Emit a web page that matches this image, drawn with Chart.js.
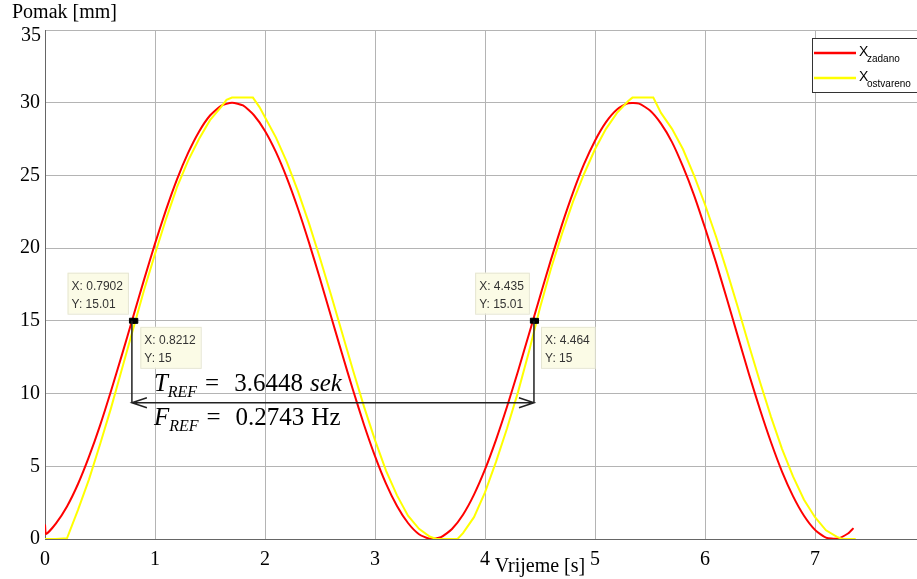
<!DOCTYPE html>
<html>
<head>
<meta charset="utf-8">
<script src="https://cdn.jsdelivr.net/npm/chart.js@4.4.1/dist/chart.umd.min.js"></script>
<style>
  body { margin: 0; background: #fff; overflow: hidden; }
  #wrap { width: 940px; height: 579px; position: relative; }
</style>
</head>
<body>
<div id="wrap"><canvas id="pomakChart"></canvas></div>
<script>
// X zadano (reference signal)
const redT = [0, 0.01, 0.1, 0.2, 0.3, 0.4, 0.5, 0.6, 0.7, 0.8, 0.9, 1.0, 1.1, 1.2, 1.3, 1.4, 1.5, 1.6, 1.7, 1.8, 1.9,
  2.0, 2.1, 2.2, 2.3, 2.4, 2.5, 2.6, 2.7, 2.8, 2.9, 3.0, 3.1, 3.2, 3.3, 3.4, 3.5, 3.6, 3.7, 3.8, 3.9,
  4.0, 4.1, 4.2, 4.3, 4.4, 4.5, 4.6, 4.7, 4.8, 4.9, 5.0, 5.1, 5.2, 5.3, 5.4, 5.5, 5.6, 5.7, 5.8, 5.9,
  6.0, 6.1, 6.2, 6.3, 6.4, 6.5, 6.6, 6.7, 6.8, 6.9, 7.0, 7.1, 7.2, 7.3, 7.35];
const redY = [1.0, 0.35, 1.08, 2.24, 3.78, 5.66, 7.80, 10.18, 12.68, 15.25, 17.82, 20.31, 22.63, 24.73, 26.53, 28.01, 29.12, 29.78, 30.00, 29.81, 29.14,
  28.06, 26.60, 24.80, 22.71, 20.38, 17.90, 15.32, 12.75, 10.24, 7.86, 5.70, 3.81, 2.27, 1.10, 0.33, 0.01, 0.13, 0.69, 1.67, 3.05,
  4.78, 6.82, 9.09, 11.54, 14.10, 16.68, 19.21, 21.62, 23.82, 25.77, 27.39, 28.67, 29.54, 29.96, 29.94, 29.46, 28.56, 27.29, 25.60, 23.65,
  21.40, 19.02, 16.48, 13.90, 11.33, 8.90, 6.65, 4.64, 2.95, 1.60, 0.63, 0.09, 0.02, 0.38, 0.75];

// X ostvareno (measured response)
const yelT = [0, 0.1, 0.2, 0.3, 0.4, 0.5, 0.6, 0.7, 0.8, 0.9, 1.0, 1.1, 1.2, 1.3, 1.4, 1.5, 1.6, 1.65, 1.7, 1.89, 1.95,
  2.0, 2.1, 2.2, 2.3, 2.4, 2.5, 2.6, 2.7, 2.8, 2.9, 3.0, 3.1, 3.2, 3.3, 3.4, 3.5, 3.56, 3.75, 3.8, 3.9,
  4.0, 4.1, 4.2, 4.3, 4.4, 4.5, 4.6, 4.7, 4.8, 4.9, 5.0, 5.1, 5.2, 5.3, 5.34, 5.53, 5.6, 5.7, 5.8, 5.9,
  6.0, 6.1, 6.2, 6.3, 6.4, 6.5, 6.6, 6.7, 6.8, 6.9, 7.0, 7.1, 7.2, 7.25, 7.37];
const yelY = [0, 0, 0.05, 2.0, 4.1, 6.5, 9.0, 11.7, 14.4, 17.1, 19.6, 22.0, 24.2, 26.0, 27.5, 28.8, 29.7, 30.2, 30.35, 30.35, 29.7,
  29.0, 27.6, 25.9, 23.9, 21.7, 19.3, 16.8, 14.2, 11.6, 9.1, 6.8, 4.7, 3.0, 1.6, 0.7, 0.15, 0, 0, 0.4, 1.5,
  3.2, 5.3, 7.6, 10.1, 12.9, 15.9, 18.6, 21.0, 23.2, 25.1, 26.8, 28.2, 29.3, 30.1, 30.35, 30.35, 29.3, 28.2, 26.8, 25.0,
  23.0, 20.8, 18.4, 15.9, 13.3, 10.8, 8.4, 6.2, 4.3, 2.7, 1.5, 0.6, 0.15, 0, 0];

// DATA TIPS
const tipX = [0.7902, 0.8212, 4.435, 4.464];
const tipY = [15.01, 15, 15.01, 15];

const xTicks = [0, 1, 2, 3, 4, 5, 6, 7, 8];
const yTicks = [0, 5, 10, 15, 20, 25, 30, 35];

// PERIOD ARROW
const arrowX = [0.79, 4.445];
const arrowY = 9.37;
const periodText = ['3.6448', '0.2743'];

const legendNames = ['zadano', 'ostvareno'];
const lineColors = ['#ff0000', '#ffff00'];

const toPoints = (xs, ys) => xs.map((x, i) => ({ x: x, y: ys[i] }));

const serif = '"Liberation Serif", "Times New Roman", serif';
const sans = '"Liberation Sans", Arial, sans-serif';
const topTick = yTicks[yTicks.length - 1];

const annotations = {
  id: 'annotations',
  afterDatasetsDraw(chart) {
    const ctx = chart.ctx;
    const xs = chart.scales.x;
    const ys = chart.scales.y;
    const area = chart.chartArea;
    ctx.save();

    // vertical + arrow line
    const ax1 = xs.getPixelForValue(arrowX[0]);
    const ax2 = xs.getPixelForValue(arrowX[1]);
    const ay = ys.getPixelForValue(arrowY);
    const my = ys.getPixelForValue(15);
    ctx.strokeStyle = '#222';
    ctx.lineWidth = 1.5;
    ctx.beginPath();
    ctx.moveTo(ax1, my); ctx.lineTo(ax1, ay);
    ctx.moveTo(ax2, my); ctx.lineTo(ax2, ay);
    ctx.moveTo(ax1, ay); ctx.lineTo(ax2, ay);
    ctx.moveTo(ax1 + 15, ay - 5); ctx.lineTo(ax1, ay); ctx.lineTo(ax1 + 15, ay + 5);
    ctx.moveTo(ax2 - 15, ay - 5); ctx.lineTo(ax2, ay); ctx.lineTo(ax2 - 15, ay + 5);
    ctx.stroke();

    // T_REF / F_REF text
    const tx = ax1 + 22;
    const drawEq = (letter, value, unit, unitItalic, base) => {
      let x = tx;
      ctx.fillStyle = '#000';
      ctx.textAlign = 'left';
      ctx.textBaseline = 'alphabetic';
      ctx.font = 'italic 25px ' + serif;
      ctx.fillText(letter, x, base);
      x += ctx.measureText(letter).width;
      ctx.font = 'italic 16px ' + serif;
      ctx.fillText('REF', x, base + 6);
      x += ctx.measureText('REF').width + 8;
      ctx.font = '25px ' + serif;
      ctx.fillText('=', x, base);
      x += ctx.measureText('=').width + 15;
      ctx.fillText(value, x, base);
      x += ctx.measureText(value).width + 7;
      ctx.font = (unitItalic ? 'italic ' : '') + '25px ' + serif;
      ctx.fillText(unit, x, base);
    };
    drawEq('T', periodText[0], 'sek', true, ay - 12);
    drawEq('F', periodText[1], 'Hz', false, ay + 22);

    // data tip boxes
    ctx.font = '12px ' + sans;
    tipX.forEach((v, i) => {
      const px = xs.getPixelForValue(v);
      const py = ys.getPixelForValue(tipY[i]);
      const l1 = 'X: ' + v;
      const l2 = 'Y: ' + tipY[i];
      const w = Math.max(ctx.measureText(l1).width, ctx.measureText(l2).width) + 9;
      const h = 41;
      const upper = i % 2 === 0;
      const bx = upper ? px - w - 4 : px + 5;
      const by = upper ? py - h - 7 : py + 6;
      ctx.fillStyle = '#fbfbe6';
      ctx.strokeStyle = '#e6e6d2';
      ctx.lineWidth = 1;
      ctx.fillRect(bx, by, w, h);
      ctx.strokeRect(bx + 0.5, by + 0.5, w, h);
      ctx.fillStyle = '#333';
      ctx.fillText(l1, bx + 4, by + 17);
      ctx.fillText(l2, bx + 4, by + 35);
    });

    // legend
    const lx = area.right - 113;
    const ly = area.top + 8;
    ctx.fillStyle = '#fff';
    ctx.fillRect(lx, ly, 109, 54);
    ctx.strokeStyle = '#333';
    ctx.lineWidth = 1;
    ctx.strokeRect(lx + 0.5, ly + 0.5, 109, 54);
    legendNames.forEach((name, i) => {
      const yy = ly + 15 + i * 25;
      ctx.strokeStyle = lineColors[i];
      ctx.lineWidth = 2.5;
      ctx.beginPath();
      ctx.moveTo(lx + 2, yy); ctx.lineTo(lx + 44, yy);
      ctx.stroke();
      ctx.fillStyle = '#000';
      ctx.font = '14px ' + sans;
      ctx.fillText('X', lx + 47, yy + 3);
      ctx.font = '10px ' + sans;
      ctx.fillText(name, lx + 55, yy + 9);
    });

    // top y label sits a bit lower, like in the original figure
    ctx.fillStyle = '#000';
    ctx.font = '20px ' + serif;
    ctx.textAlign = 'right';
    ctx.textBaseline = 'middle';
    ctx.fillText(String(topTick), area.left - 4, ys.getPixelForValue(topTick) + 6);

    // axis titles
    ctx.textBaseline = 'alphabetic';
    ctx.textAlign = 'left';
    ctx.fillText('Pomak [mm]', area.left - 33, area.top - 12);
    ctx.textAlign = 'center';
    ctx.fillText('Vrijeme [s]', xs.getPixelForValue(4.5), area.bottom + 33);
    ctx.restore();
  }
};

const ctx = document.getElementById('pomakChart').getContext('2d');
new Chart(ctx, {
  type: 'line',
  data: {
    datasets: [
      {
        label: 'X zadano',
        data: toPoints(redT, redY),
        borderColor: lineColors[0],
        borderWidth: 2,
        pointRadius: 0,
        tension: 0.2,
        order: 2
      },
      {
        label: 'X ostvareno',
        data: toPoints(yelT, yelY),
        borderColor: lineColors[1],
        borderWidth: 2,
        pointRadius: 0,
        tension: 0,
        order: 1
      },
      {
        label: 'tips',
        data: toPoints(tipX, tipY),
        showLine: false,
        pointStyle: 'rect',
        pointRadius: 3.5,
        backgroundColor: '#000',
        borderColor: '#000',
        order: 0
      }
    ]
  },
  options: {
    responsive: true,
    maintainAspectRatio: false,
    animation: false,
    layout: { padding: { top: 30, right: 15, left: 0, bottom: 0 } },
    plugins: {
      legend: { display: false },
      tooltip: { enabled: false }
    },
    scales: {
      x: {
        type: 'linear',
        min: 0,
        max: 8,
        afterFit: s => { s.height = 40; },
        afterBuildTicks: s => { s.ticks = xTicks.map(v => ({ value: v })); },
        ticks: { color: '#000', padding: 9, font: { family: serif, size: 20 }, maxRotation: 0 },
        grid: { color: '#b4b4b4', drawTicks: false },
        border: { color: '#666' }
      },
      y: {
        min: 0,
        max: 35,
        afterFit: s => { s.width = 45; },
        afterBuildTicks: s => { s.ticks = yTicks.map(v => ({ value: v })); },
        ticks: {
          color: '#000',
          padding: 5,
          font: { family: serif, size: 20 },
          callback: v => (v === topTick ? '' : v)
        },
        grid: { color: '#b4b4b4', drawTicks: false },
        border: { color: '#666' }
      }
    }
  },
  plugins: [annotations]
});
</script>
</body>
</html>
